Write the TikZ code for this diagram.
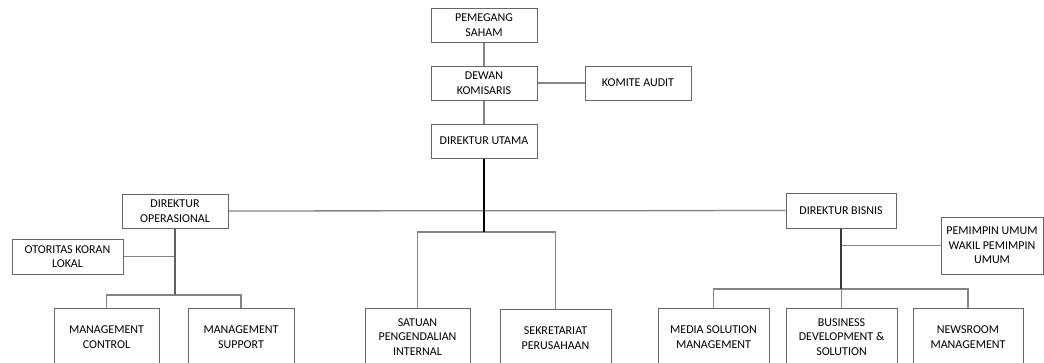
\documentclass[tikz,border=0pt]{standalone}
\usepackage{fontspec}
\setmainfont{Carlito}
\usetikzlibrary{positioning, calc}

\begin{document}
\begin{tikzpicture}[
  x=1pt, y=-1pt,
  unit/.style={draw=black!60, line width=1pt, rectangle, minimum height=34pt, minimum width=106pt, align=center, inner sep=1pt, font=\fontsize{12}{14.6}\selectfont},
  lowunit/.style={unit, minimum height=58pt},
  link/.style={draw=black!48, line width=1.3pt},
  trunk/.style={draw=black, line width=1.5pt}
]
\useasboundingbox (0,0) rectangle (1044,362);
\clip (0,0) rectangle (1044,362);

% Nodes (top chain)
\node[unit] (pemegang) at (484,25) {PEMEGANG\\SAHAM};
\node[unit] (dewan) at (484,83) {DEWAN\\KOMISARIS};
\node[unit] (komite) at (638,83) {KOMITE AUDIT};
\node[unit] (utama) at (484,141) {DIREKTUR UTAMA};

% Directors
\node[unit] (dirop) at (175,211) {DIREKTUR\\OPERASIONAL};
\node[unit, minimum width=110pt, minimum height=35pt] (dirbis) at (841,210.5) {DIREKTUR BISNIS};
\node[unit, minimum width=111pt, minimum height=35pt] (otoritas) at (67.5,256.5) {OTORITAS KORAN\\LOKAL};
\node[unit, minimum width=102pt, minimum height=57pt] (pemimpin) at (992,245.5) {PEMIMPIN UMUM\\WAKIL PEMIMPIN\\UMUM};

% Bottom row
\node[lowunit, minimum width=105pt] (mctrl) at (106.5,337) {MANAGEMENT\\CONTROL};
\node[lowunit] (msupp) at (241,337) {MANAGEMENT\\SUPPORT};
\node[lowunit, minimum width=105pt] (satuan) at (417.5,337) {SATUAN\\PENGENDALIAN\\INTERNAL};
\node[lowunit, minimum width=111pt] (sekretariat) at (555.5,338) {SEKRETARIAT\\PERUSAHAAN};
\node[lowunit, minimum width=111pt] (media) at (713.5,337) {MEDIA SOLUTION\\MANAGEMENT};
\node[lowunit, minimum width=111pt] (bisdev) at (841.5,337) {BUSINESS\\DEVELOPMENT \&\\SOLUTION};
\node[lowunit, minimum width=110pt] (newsroom) at (968,337) {NEWSROOM\\MANAGEMENT};

% Junctions
\coordinate (hubmid) at (484,232);
\coordinate (hubop) at (175,295);
\coordinate (hubbis) at (841,289);

% Connectors - top
\draw[link] (pemegang) -- (dewan);
\draw[link] (dewan) -- (komite);
\draw[link] (dewan) -- (utama);
\draw[link] (dirop) -- (dirbis);

% Connectors - centre
\draw[link] (hubmid) -| (satuan.north);
\draw[link] (hubmid) -| (sekretariat.north);
\draw[trunk] (utama) -- (hubmid);

% Connectors - operasional
\draw[link] (otoritas.east) -- (otoritas.east -| hubop);
\draw[link] (hubop) -| (mctrl.north);
\draw[link] (hubop) -| (msupp.north);
\draw[link, draw=black!62] (dirop) -- (hubop);

% Connectors - bisnis
\draw[link] (pemimpin.west) -- (pemimpin.west -| hubbis);
\draw[link] (hubbis) -| (media.north);
\draw[link] (hubbis) -| (bisdev.north);
\draw[link] (hubbis) -| (newsroom.north);
\draw[trunk, draw=black!78] (dirbis) -- (hubbis);

\end{tikzpicture}
\end{document}
